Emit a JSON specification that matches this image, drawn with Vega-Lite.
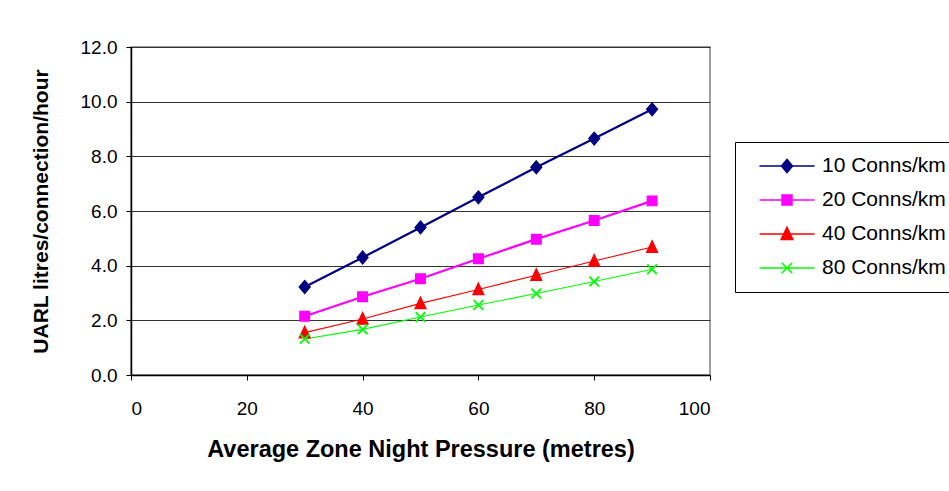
{
  "$schema": "https://vega.github.io/schema/vega-lite/v6.json",
  "width": 579,
  "height": 328,
  "autosize": {"type": "none"},
  "padding": {"left": 131, "top": 47, "right": 239, "bottom": 116},
  "background": "white",
  "config": {
    "font": "Liberation Sans",
    "view": {"stroke": "#808080", "strokeWidth": 1.5},
    "axis": {
      "labelFont": "Liberation Sans",
      "titleFont": "Liberation Sans",
      "labelColor": "#000",
      "titleColor": "#000",
      "domainColor": "#000",
      "tickColor": "#000",
      "domainWidth": 1.5,
      "tickWidth": 1,
      "tickSize": 5,
      "labelFontSize": 19,
      "titleFontSize": 21,
      "titleFontWeight": "bold"
    }
  },
  "data": {
    "values": [
      {"series": "10 Conns/km", "pressure": 30, "uarl": 3.22},
      {"series": "10 Conns/km", "pressure": 40, "uarl": 4.3},
      {"series": "10 Conns/km", "pressure": 50, "uarl": 5.4},
      {"series": "10 Conns/km", "pressure": 60, "uarl": 6.5},
      {"series": "10 Conns/km", "pressure": 70, "uarl": 7.6},
      {"series": "10 Conns/km", "pressure": 80, "uarl": 8.65},
      {"series": "10 Conns/km", "pressure": 90, "uarl": 9.72},
      {"series": "20 Conns/km", "pressure": 30, "uarl": 2.15},
      {"series": "20 Conns/km", "pressure": 40, "uarl": 2.86},
      {"series": "20 Conns/km", "pressure": 50, "uarl": 3.52},
      {"series": "20 Conns/km", "pressure": 60, "uarl": 4.25},
      {"series": "20 Conns/km", "pressure": 70, "uarl": 4.97},
      {"series": "20 Conns/km", "pressure": 80, "uarl": 5.65},
      {"series": "20 Conns/km", "pressure": 90, "uarl": 6.37},
      {"series": "40 Conns/km", "pressure": 30, "uarl": 1.55},
      {"series": "40 Conns/km", "pressure": 40, "uarl": 2.05},
      {"series": "40 Conns/km", "pressure": 50, "uarl": 2.62},
      {"series": "40 Conns/km", "pressure": 60, "uarl": 3.13},
      {"series": "40 Conns/km", "pressure": 70, "uarl": 3.65},
      {"series": "40 Conns/km", "pressure": 80, "uarl": 4.17},
      {"series": "40 Conns/km", "pressure": 90, "uarl": 4.68},
      {"series": "80 Conns/km", "pressure": 30, "uarl": 1.32},
      {"series": "80 Conns/km", "pressure": 40, "uarl": 1.67},
      {"series": "80 Conns/km", "pressure": 50, "uarl": 2.12},
      {"series": "80 Conns/km", "pressure": 60, "uarl": 2.56},
      {"series": "80 Conns/km", "pressure": 70, "uarl": 2.98},
      {"series": "80 Conns/km", "pressure": 80, "uarl": 3.42},
      {"series": "80 Conns/km", "pressure": 90, "uarl": 3.87}
    ]
  },
  "encoding": {
    "x": {
      "field": "pressure",
      "type": "quantitative",
      "scale": {"domain": [0, 100], "nice": false, "zero": false},
      "axis": {
        "values": [0, 20, 40, 60, 80, 100],
        "grid": false,
        "title": "Average Zone Night Pressure (metres)",
        "titleFontSize": 23.5,
        "labelPadding": 19,
        "titlePadding": 19
      }
    },
    "y": {
      "field": "uarl",
      "type": "quantitative",
      "scale": {"domain": [0, 12], "nice": false},
      "axis": {
        "values": [0, 2, 4, 6, 8, 10, 12],
        "format": ".1f",
        "grid": true,
        "gridColor": "#333",
        "gridWidth": 1,
        "title": "UARL litres/connection/hour",
        "labelPadding": 9,
        "titlePadding": 29
      }
    },
    "color": {
      "field": "series",
      "type": "nominal",
      "scale": {"domain": ["10 Conns/km", "20 Conns/km", "40 Conns/km", "80 Conns/km"], "range": ["#000080", "#FF00FF", "#FF0000", "#00FF00"]},
      "legend": {
        "title": null,
        "orient": "none",
        "legendX": 604,
        "legendY": 95,
        "strokeColor": "#000",
        "fillColor": "#fff",
        "padding": 13.5,
        "rowPadding": 12,
        "clipHeight": 21,
        "labelFont": "Liberation Sans",
        "labelFontSize": 21,
        "labelColor": "#000",
        "labelOffset": 6.5,
        "symbolOffset": 10,
        "symbolSize": 3025,
        "symbolStrokeWidth": 1.6,
        "symbolOpacity": 1
      }
    }
  },
  "layer": [
    {
      "transform": [{"filter": "datum.series === '10 Conns/km' || datum.series === '20 Conns/km'"}],
      "mark": {"type": "line", "strokeWidth": 2.2}
    },
    {
      "transform": [{"filter": "datum.series === '40 Conns/km' || datum.series === '80 Conns/km'"}],
      "mark": {"type": "line", "strokeWidth": 1.1}
    },
    {
      "transform": [{"filter": "datum.series === '10 Conns/km'"}],
      "mark": {"type": "point", "filled": true, "size": 169, "strokeWidth": 1.2, "opacity": 1, "shape": "M0,-1L0.85,0L0,1L-0.85,0Z"},
      "encoding": {
        "stroke": {"field": "series", "type": "nominal", "scale": {"domain": ["10 Conns/km", "20 Conns/km", "40 Conns/km", "80 Conns/km"], "range": ["#000080", "#FF00FF", "#FF0000", "#00FF00"]}, "legend": null}
      }
    },
    {
      "transform": [{"filter": "datum.series === '20 Conns/km'"}],
      "mark": {"type": "point", "filled": true, "size": 169, "strokeWidth": 1.2, "opacity": 1, "shape": "M-0.75,-0.75L0.75,-0.75L0.75,0.75L-0.75,0.75Z"},
      "encoding": {
        "stroke": {"field": "series", "type": "nominal", "legend": null}
      }
    },
    {
      "transform": [{"filter": "datum.series === '40 Conns/km'"}],
      "mark": {"type": "point", "filled": true, "size": 169, "strokeWidth": 1.2, "opacity": 1, "shape": "M0,-1L0.85,0.8L-0.85,0.8Z"},
      "encoding": {
        "stroke": {"field": "series", "type": "nominal", "legend": null}
      }
    },
    {
      "transform": [{"filter": "datum.series === '80 Conns/km'"}],
      "mark": {"type": "point", "filled": false, "size": 144, "strokeWidth": 1.8, "opacity": 1, "shape": "M-0.8,-0.8L0.8,0.8M-0.8,0.8L0.8,-0.8"},
      "encoding": {
        "stroke": {"field": "series", "type": "nominal", "legend": null}
      }
    },
    {
      "transform": [{"filter": "datum.pressure < 0"}],
      "mark": {"type": "point", "filled": false},
      "encoding": {
        "shape": {
          "field": "series",
          "type": "nominal",
          "scale": {
            "domain": ["10 Conns/km", "20 Conns/km", "40 Conns/km", "80 Conns/km"],
            "range": [
              "M-1,0L1,0M0,-0.24L0.2,0L0,0.24L-0.2,0Z",
              "M-1,0L1,0M-0.18,-0.18L0.18,-0.18L0.18,0.18L-0.18,0.18Z",
              "M-1,0L1,0M0,-0.24L0.21,0.2L-0.21,0.2Z",
              "M-1,0L1,0M-0.19,-0.19L0.19,0.19M-0.19,0.19L0.19,-0.19"
            ]
          },
          "legend": {
            "title": null,
            "orient": "none",
            "legendX": 604,
            "legendY": 95,
            "strokeColor": "#000",
            "fillColor": "#fff",
            "padding": 13.5,
            "rowPadding": 12,
            "clipHeight": 21,
            "labelFont": "Liberation Sans",
            "labelFontSize": 21,
            "labelColor": "#000",
            "labelOffset": 6.5,
            "symbolOffset": 10,
            "symbolSize": 3025,
            "symbolStrokeWidth": 1.6,
            "symbolOpacity": 1
          }
        }
      }
    }
  ]
}
